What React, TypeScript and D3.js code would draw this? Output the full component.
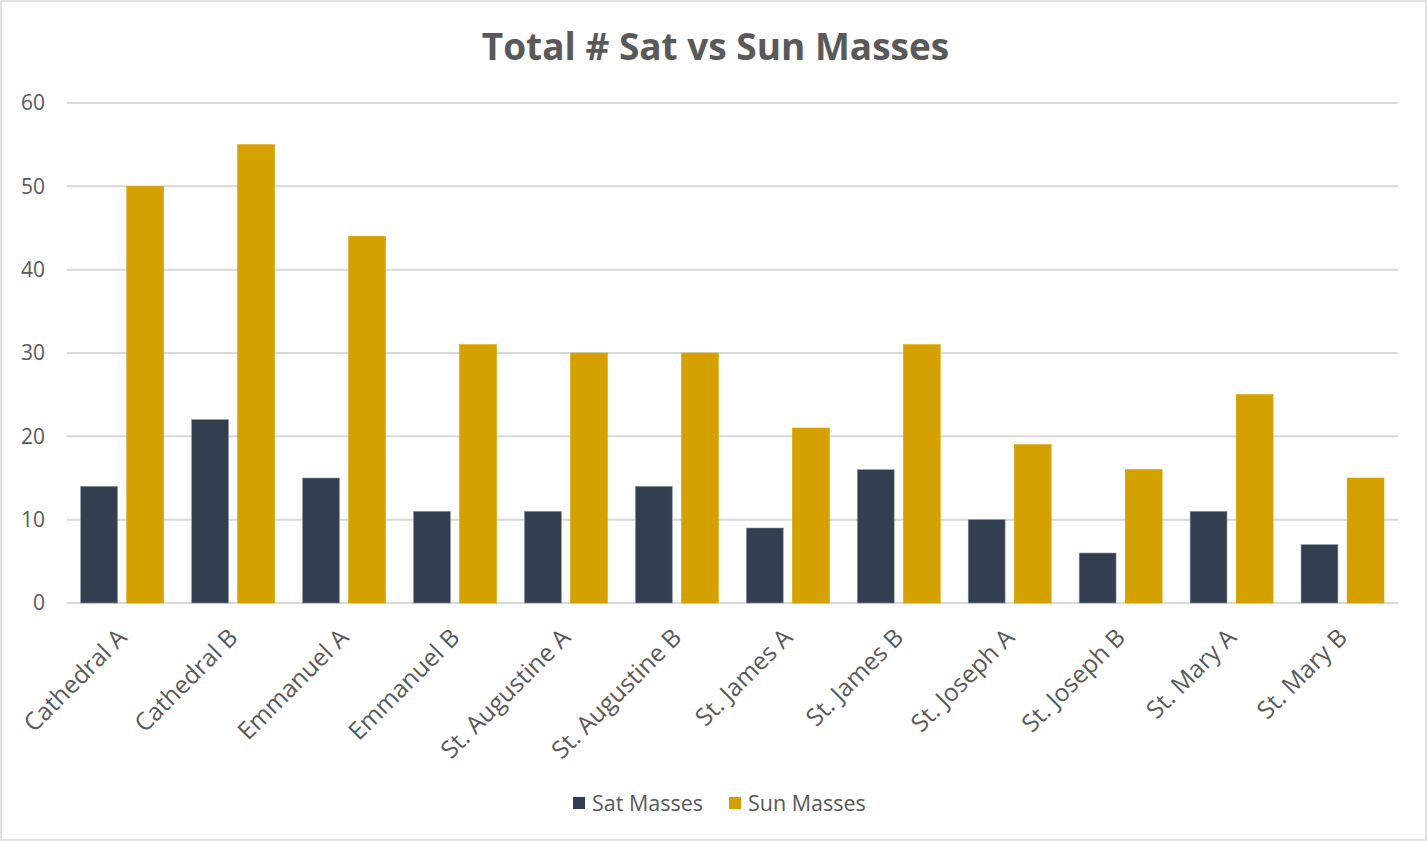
import React, { useEffect, useRef } from 'react';
import * as d3 from 'd3';

const categories = [
  'Cathedral A', 'Cathedral B', 'Emmanuel A', 'Emmanuel B', 'St. Augustine A', 'St. Augustine B',
  'St. James A', 'St. James B', 'St. Joseph A', 'St. Joseph B', 'St. Mary A', 'St. Mary B',
];
const satMasses = [14, 22, 15, 11, 11, 14, 9, 16, 10, 6, 11, 7];
const sunMasses = [50, 55, 44, 31, 30, 30, 21, 31, 19, 16, 25, 15];
const seriesNames = ['Sat Masses', 'Sun Masses'];
const yTicks = [0, 10, 20, 30, 40, 50, 60];

const colors = ['#333F50', '#D4A100'];
const font = '"Open Sans", sans-serif';

const App: React.FC = () => {
  const svgRef = useRef<SVGSVGElement | null>(null);

  useEffect(() => {
    if (!svgRef.current) return;
    const svg = d3.select(svgRef.current);
    svg.selectAll('*').remove();

    const width = 1427;
    const height = 841;
    const left = 66.7;
    const right = 1398;
    const top = 103;
    const bottom = 603;

    svg.attr('width', width).attr('height', height);

    svg.append('rect')
      .attr('x', 1).attr('y', 1)
      .attr('width', width - 2).attr('height', height - 2)
      .attr('fill', '#fff')
      .attr('stroke', '#D9D9D9')
      .attr('stroke-width', 1.5);

    const x0 = d3.scaleBand<string>().domain(categories).range([left, right]).padding(0);
    const x1 = d3.scaleBand<string>()
      .domain(seriesNames)
      .range([14, x0.bandwidth() - 14])
      .paddingInner(0.2);
    const y = d3.scaleLinear().domain([0, 60]).range([bottom, top]);

    // title
    svg.append('text')
      .attr('x', 715.5).attr('y', 60)
      .attr('text-anchor', 'middle')
      .attr('font-family', font)
      .attr('font-weight', 700)
      .attr('font-size', 37)
      .attr('fill', '#595959')
      .text('Total # Sat vs Sun Masses');

    // gridlines
    svg.append('g').selectAll('line')
      .data(yTicks)
      .enter()
      .append('line')
      .attr('x1', left).attr('x2', right)
      .attr('y1', d => y(d)).attr('y2', d => y(d))
      .attr('stroke', '#D9D9D9')
      .attr('stroke-width', 2);

    svg.append('g').selectAll('text')
      .data(yTicks)
      .enter()
      .append('text')
      .attr('x', 45)
      .attr('y', d => y(d))
      .attr('dy', '0.35em')
      .attr('text-anchor', 'end')
      .attr('font-family', font)
      .attr('font-size', 21)
      .attr('fill', '#595959')
      .text(d => d);

    // bars
    const data = categories.map((c, i) => ({ cat: c, values: [satMasses[i], sunMasses[i]] }));
    const groups = svg.append('g').selectAll('g')
      .data(data)
      .enter()
      .append('g')
      .attr('transform', d => `translate(${x0(d.cat)},0)`);

    groups.selectAll('rect')
      .data(d => d.values.map((v, k) => ({ key: seriesNames[k], value: v, k })))
      .enter()
      .append('rect')
      .attr('x', d => x1(d.key) as number)
      .attr('width', x1.bandwidth())
      .attr('y', d => y(d.value))
      .attr('height', d => y(0) - y(d.value))
      .attr('fill', d => colors[d.k])
      .attr('stroke', d => (d.k === 0 ? '#8A94A3' : '#D4A100'))
      .attr('stroke-width', 0.6);

    // category labels, rotated
    svg.append('g').selectAll('text')
      .data(categories)
      .enter()
      .append('text')
      .attr('transform', d => `translate(${(x0(d) as number) + x0.bandwidth() / 2 - 6},${627}) rotate(-45)`)
      .attr('text-anchor', 'end')
      .attr('dy', '0.7em')
      .attr('font-family', font)
      .attr('font-size', 24.5)
      .attr('fill', '#595959')
      .text(d => d);

    // legend
    const legendX = [573, 729];
    seriesNames.forEach((name, i) => {
      svg.append('rect')
        .attr('x', legendX[i]).attr('y', 797)
        .attr('width', 12).attr('height', 12)
        .attr('fill', colors[i]);
      svg.append('text')
        .attr('x', legendX[i] + 19).attr('y', 803)
        .attr('dy', '0.35em')
        .attr('font-family', font)
        .attr('font-size', 21.5)
        .attr('fill', '#595959')
        .text(name);
    });
  }, []);

  return (
    <div style={{ position: 'absolute', left: 0, top: 0 }}>
      <svg ref={svgRef} style={{ display: 'block' }}></svg>
    </div>
  );
};

export default App;
